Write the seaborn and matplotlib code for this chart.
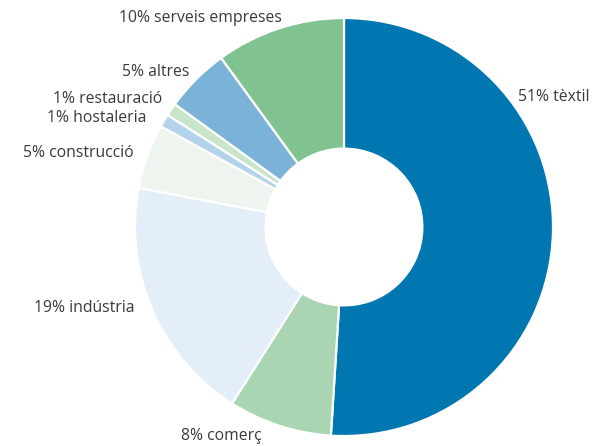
import matplotlib
matplotlib.use("Agg")
import matplotlib.pyplot as plt
import seaborn as sns

# sectors, clockwise from the top
sectors = ["tèxtil", "comerç", "indústria", "construcció",
           "hostaleria", "restauració", "altres", "serveis empreses"]
shares = [51, 8, 19, 5, 1, 1, 5, 10]
colors = ["#0077b0", "#aad5b2", "#e4eef8", "#eef5ee",
          "#b3d2eb", "#c8e5ca", "#7bb3d8", "#80c391"]

# label anchors (data units, radius 1 = outer edge) and alignment
label_pos = {
    "tèxtil": (0.833, 0.622, "left"),
    "comerç": (-0.392, -1.0, "right"),
    "indústria": (-1.0, -0.388, "right"),
    "construcció": (-1.005, 0.354, "right"),
    "hostaleria": (-0.947, 0.522, "right"),
    "restauració": (-0.871, 0.612, "right"),
    "altres": (-0.742, 0.742, "right"),
    "serveis empreses": (-0.297, 1.0, "right"),
}

sns.set_theme(style="white")
plt.rcParams["font.family"] = ["Open Sans", "DejaVu Sans"]

fig = plt.figure(figsize=(5.96, 4.46), dpi=100)
ax = fig.add_axes([0, 0, 1, 1])

ax.pie(shares, colors=colors, startangle=90, counterclock=False,
       radius=1.0,
       wedgeprops=dict(width=0.625, edgecolor="white", linewidth=1.6))

for name, val in zip(sectors, shares):
    x, y, ha = label_pos[name]
    ax.text(x, y, f"{val}% {name}", ha=ha, va="center",
            fontsize=11.3, color="#3a3a3a")

ax.set_xlim(-344 / 209, (596 - 344) / 209)
ax.set_ylim(-219 / 209, 227 / 209)
ax.set_aspect("auto")
ax.axis("off")

fig.savefig("out.png", dpi=100)
